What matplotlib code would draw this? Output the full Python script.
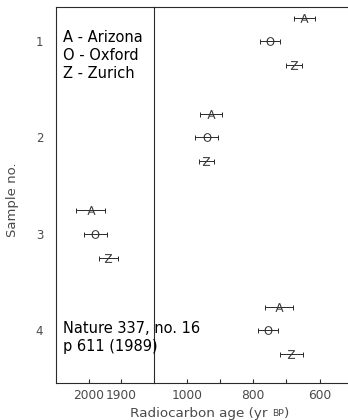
import numpy as np
import matplotlib.pyplot as plt

# radiocarbon ages (yr BP) per sample and laboratory, with 1-sigma errors
samples = [1, 2, 3, 4]
labs = ['A', 'O', 'Z']
lab_offset = [-0.24, 0.0, 0.25]
arizona = [646, 927, 1995, 722]
arizona_err = [31, 32, 46, 43]
oxford = [750, 940, 1980, 755]
oxford_err = [30, 35, 35, 30]
zurich = [676, 941, 1940, 685]
zurich_err = [24, 23, 30, 34]

ages = [arizona, oxford, zurich]
errs = [arizona_err, oxford_err, zurich_err]

W, H = 348, 420
fig = plt.figure(figsize=(W / 100, H / 100), dpi=100)
fig.patch.set_facecolor('white')

x0, x1, x2 = 55.7, 154.0, 348.0
ytop, ybot = 7.0, 383.0
axL = fig.add_axes([x0 / W, 1 - ybot / H, (x1 - x0) / W, (ybot - ytop) / H])
axR = fig.add_axes([x1 / W, 1 - ybot / H, (x2 - x1) / W + 0.01, (ybot - ytop) / H])

line_col = '#2a2a2a'
tick_col = '#4a4a4a'

for ax in (axL, axR):
    for i, lab in enumerate(labs):
        y = np.array(samples) + lab_offset[i]
        ax.errorbar(ages[i], y, xerr=errs[i], fmt='none', ecolor=line_col,
                    elinewidth=0.7, capsize=1.8, capthick=0.7)
        ax.plot(ages[i], y, linestyle='none', marker='$\\mathsf{%s}$' % lab,
                markersize=6.3, color='#333333', markeredgewidth=0)
    ax.set_ylim(4.55, 0.65)
    for s in ax.spines.values():
        s.set_color(line_col)
        s.set_linewidth(0.8)
    ax.tick_params(axis='x', direction='in', length=3, width=0.8, color=line_col,
                   labelsize=8.8, labelcolor=tick_col, pad=4)

axL.set_xlim(2105, 1796)
axL.set_xticks([2000, 1900])
axL.set_xticklabels(['2000', '1900'])
axL.set_yticks(samples)
axL.set_yticklabels([str(s) for s in samples])
axL.tick_params(axis='y', length=0, pad=9, labelsize=8.5, labelcolor=tick_col)
axL.spines['right'].set_visible(False)

axR.set_xlim(1099, 504)
axR.set_xticks([1000, 900, 800, 700, 600])
axR.set_xticklabels(['1000', '', '800', '', '600'])
axR.set_yticks([])
axR.spines['right'].set_visible(False)

axL.set_ylabel('Sample no.', fontsize=9.5, color=tick_col)
axL.yaxis.set_label_coords(-0.375, 0.487)

# x label with small-caps BP
t1 = fig.text(130 / W, 1 - 413 / H, 'Radiocarbon age (yr ', fontsize=9.7,
              color=tick_col, ha='left', va='center')
a1 = plt.annotate('BP', xy=(1, 0), xycoords=t1, xytext=(0, 1.2), textcoords='offset points',
                  fontsize=6.7, color=tick_col, ha='left', va='bottom',
                  annotation_clip=False)
a2 = plt.annotate(')', xy=(1, 0), xycoords=a1, xytext=(0.5, -1.2), textcoords='offset points',
                  fontsize=9.7, color=tick_col, ha='left', va='bottom',
                  annotation_clip=False)

fig.text(63 / W, 1 - 30 / H, 'A - Arizona\nO - Oxford\nZ - Zurich', fontsize=10.5,
         color='black', ha='left', va='top', linespacing=1.27)
fig.text(63 / W, 1 - 321 / H, 'Nature 337, no. 16\np 611 (1989)', fontsize=10.5,
         color='black', ha='left', va='top', linespacing=1.27)

fig.savefig('out.png', dpi=100)
